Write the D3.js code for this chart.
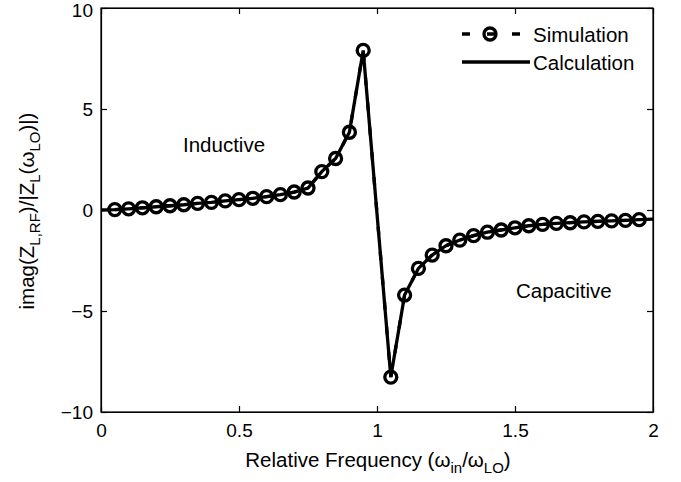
<!DOCTYPE html>
<html>
<head>
<meta charset="utf-8">
<script src="https://cdn.jsdelivr.net/npm/d3@7"></script>
<style>
  body { margin: 0; background: #fff; }
  text { font-family: "Liberation Sans", Arial, sans-serif; fill: #000; }
</style>
</head>
<body>
<svg id="chart" width="681" height="482"></svg>
<script>
// Data
const simX = [0.05, 0.10, 0.15, 0.20, 0.25, 0.30, 0.35, 0.40, 0.45, 0.50, 0.55, 0.60, 0.65, 0.70, 0.75, 0.80, 0.85, 0.90, 0.95,
  1.05, 1.10, 1.15, 1.20, 1.25, 1.30, 1.35, 1.40, 1.45, 1.50, 1.55, 1.60, 1.65, 1.70, 1.75, 1.80, 1.85, 1.90, 1.95];
const simY = [0.02, 0.06, 0.11, 0.16, 0.21, 0.26, 0.33, 0.38, 0.45, 0.51, 0.58, 0.66, 0.76, 0.89, 1.09, 1.90, 2.55, 3.85, 7.90,
  -8.27, -4.21, -2.89, -2.23, -1.77, -1.49, -1.27, -1.10, -0.99, -0.88, -0.78, -0.71, -0.66, -0.63, -0.59, -0.56, -0.54, -0.51, -0.48];
const calcX = [0, 0.05, 0.10, 0.15, 0.20, 0.25, 0.30, 0.35, 0.40, 0.45, 0.50, 0.55, 0.60, 0.65, 0.70, 0.75, 0.80, 0.85, 0.90, 0.95,
  1.05, 1.10, 1.15, 1.20, 1.25, 1.30, 1.35, 1.40, 1.45, 1.50, 1.55, 1.60, 1.65, 1.70, 1.75, 1.80, 1.85, 1.90, 1.95, 2.00];
const calcY = [0, 0.02, 0.06, 0.11, 0.16, 0.21, 0.26, 0.33, 0.38, 0.45, 0.51, 0.58, 0.66, 0.76, 0.89, 1.09, 1.90, 2.55, 3.85, 7.90,
  -8.27, -4.21, -2.89, -2.23, -1.77, -1.49, -1.27, -1.10, -0.99, -0.88, -0.78, -0.71, -0.66, -0.63, -0.59, -0.56, -0.54, -0.51, -0.48, -0.45];
const xTicks = [0, 0.5, 1, 1.5, 2];
const yTicks = [-10, -5, 0, 5, 10];

// Layout
const plotLeft = 101, plotRight = 653, plotTop = 8, plotBottom = 412;
const tickLen = 6;
const lineWidth = 3.3;
const markerR = 6;
const labelSize = '20.5px';
const subSize = '15px';

const svg = d3.select('#chart');

// Scales
const x = d3.scaleLinear().domain([0, 2]).range([plotLeft, plotRight]);
const y = d3.scaleLinear().domain([-10, 10]).range([plotBottom, plotTop]);

// Axes (ticks pointing inward, mirrored on top/right)
const fmt = d => d < 0 ? '\u2212' + Math.abs(d) : String(d);
svg.append('g')
  .attr('transform', `translate(0,${plotBottom})`)
  .call(d3.axisBottom(x).tickValues(xTicks).tickSizeInner(-tickLen).tickSizeOuter(0).tickPadding(12).tickFormat(fmt));
svg.append('g')
  .attr('transform', `translate(0,${plotTop})`)
  .call(d3.axisTop(x).tickValues(xTicks).tickSizeInner(-tickLen).tickSizeOuter(0).tickFormat(''));
const yAxis = svg.append('g')
  .attr('transform', `translate(${plotLeft},0)`)
  .call(d3.axisLeft(y).tickValues(yTicks).tickSizeInner(-tickLen).tickSizeOuter(0).tickPadding(8).tickFormat(fmt));
svg.append('g')
  .attr('transform', `translate(${plotRight},0)`)
  .call(d3.axisRight(y).tickValues(yTicks).tickSizeInner(-tickLen).tickSizeOuter(0).tickFormat(''));

svg.selectAll('.tick text')
  .style('font-size', '19px')
  .style('font-family', '"Liberation Sans", Arial, sans-serif');
// keep the top label inside the page
yAxis.selectAll('.tick text').filter(d => d === 10).attr('dy', '0.45em');
svg.selectAll('.domain, .tick line').attr('stroke', '#000').attr('stroke-width', 1.2);

// Frame
svg.append('rect')
  .attr('x', plotLeft).attr('y', plotTop)
  .attr('width', plotRight - plotLeft).attr('height', plotBottom - plotTop)
  .attr('fill', 'none').attr('stroke', '#000').attr('stroke-width', 1.2);

// Lines
const line = d3.line().x(d => x(d[0])).y(d => y(d[1]));
const simData = simX.map((v, i) => [v, simY[i]]);
const calcData = calcX.map((v, i) => [v, calcY[i]]);

svg.append('path')
  .attr('d', line(simData))
  .attr('fill', 'none').attr('stroke', '#000')
  .attr('stroke-width', lineWidth).attr('stroke-dasharray', '8,17');

svg.append('g')
  .selectAll('circle')
  .data(simData)
  .join('circle')
  .attr('cx', d => x(d[0]))
  .attr('cy', d => y(d[1]))
  .attr('r', markerR)
  .attr('fill', 'none').attr('stroke', '#000').attr('stroke-width', lineWidth);

svg.append('path')
  .attr('d', line(calcData))
  .attr('fill', 'none').attr('stroke', '#000')
  .attr('stroke-width', lineWidth).attr('stroke-linejoin', 'miter');

// Legend
const legend = svg.append('g');
legend.append('line')
  .attr('x1', 462).attr('x2', 521).attr('y1', 34).attr('y2', 34)
  .attr('stroke', '#000').attr('stroke-width', lineWidth).attr('stroke-dasharray', '8,17');
legend.append('circle')
  .attr('cx', 490).attr('cy', 34).attr('r', markerR)
  .attr('fill', 'none').attr('stroke', '#000').attr('stroke-width', lineWidth);
legend.append('text').attr('x', 533).attr('y', 41.5).style('font-size', labelSize).text('Simulation');
legend.append('line')
  .attr('x1', 462).attr('x2', 530).attr('y1', 62).attr('y2', 62)
  .attr('stroke', '#000').attr('stroke-width', lineWidth);
legend.append('text').attr('x', 533).attr('y', 69.5).style('font-size', labelSize).text('Calculation');

// Annotations
svg.append('text').attr('x', 183).attr('y', 152).style('font-size', labelSize).text('Inductive');
svg.append('text').attr('x', 516).attr('y', 298).style('font-size', labelSize).text('Capacitive');

// Axis labels
const xl = svg.append('text')
  .attr('x', 378).attr('y', 467)
  .attr('text-anchor', 'middle')
  .style('font-size', labelSize);
xl.append('tspan').text('Relative Frequency (\u03c9');
xl.append('tspan').attr('dy', 6).style('font-size', subSize).text('in');
xl.append('tspan').attr('dy', -6).text('/\u03c9');
xl.append('tspan').attr('dy', 6).style('font-size', subSize).text('LO');
xl.append('tspan').attr('dy', -6).text(')');

const yl = svg.append('text')
  .attr('transform', 'translate(34,211) rotate(-90)')
  .attr('text-anchor', 'middle')
  .style('font-size', labelSize);
yl.append('tspan').text('imag(Z');
yl.append('tspan').attr('dy', 6).style('font-size', subSize).text('L,RF');
yl.append('tspan').attr('dy', -6).text(')/|Z');
yl.append('tspan').attr('dy', 6).style('font-size', subSize).text('L');
yl.append('tspan').attr('dy', -6).text('(\u03c9');
yl.append('tspan').attr('dy', 6).style('font-size', subSize).text('LO');
yl.append('tspan').attr('dy', -6).text(')|)');
</script>
</body>
</html>
